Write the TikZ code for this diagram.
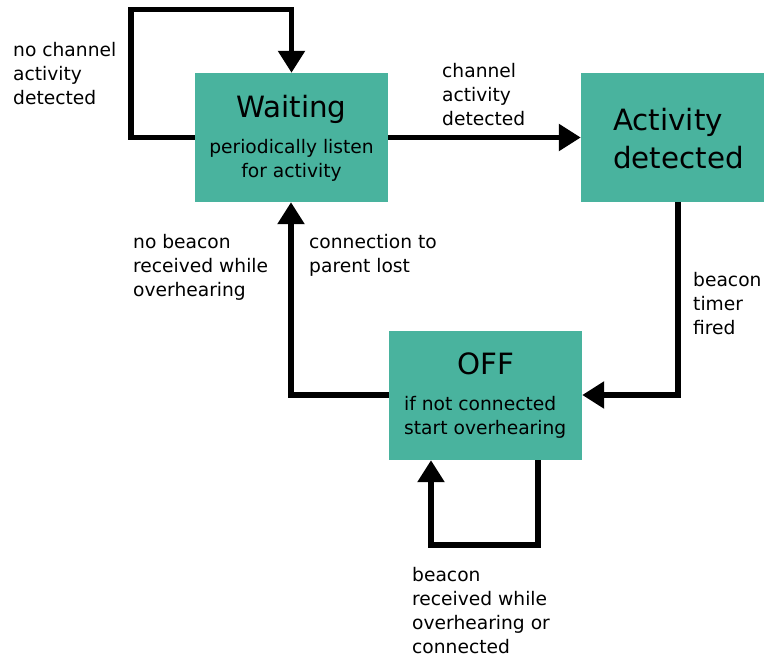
\documentclass[tikz,border=0pt]{standalone}
\usepackage{fontspec}
\setmainfont{DejaVu Sans}
\usetikzlibrary{arrows.meta}

\definecolor{statefill}{RGB}{73,179,158}

% left- or centre-aligned stack of lines whose baseline is the first line
\newcommand\lstack[1]{\begin{tabular}[t]{@{}l@{}}#1\end{tabular}}
\newcommand\cstack[1]{\begin{tabular}[t]{@{}c@{}}#1\end{tabular}}

\begin{document}
\begin{tikzpicture}[
  x=1pt, y=-1pt,
  state/.style={fill=statefill, draw=none, inner sep=0pt,
                minimum width=193pt, minimum height=129pt},
  title/.style={inner sep=0pt, font=\fontsize{29.33pt}{38pt}\selectfont},
  sub/.style={inner sep=0pt, font=\fontsize{18.67pt}{24pt}\selectfont},
  lbl/.style={anchor=base west, inner sep=0pt, font=\fontsize{18.67pt}{24pt}\selectfont},
  edge/.style={line width=5.5pt, line join=miter,
               -{Triangle[length=22pt, width=26pt]}},
]
\useasboundingbox (0,0) rectangle (764,656);
\clip (0,0) rectangle (764,656);

% states
\node[state] (waiting) at (291.5,137.5) {};
\node[state, minimum width=194pt] (active) at (678,137.5) {};
\node[state] (off) at (485.5,395.5) {};

% state texts
\node[title, anchor=base] (waitT) at (291.5,117) {Waiting};
\node[sub, anchor=base] (waitS) at (291.5,153) {\cstack{periodically listen\\for activity}};
\node[title, anchor=base west] (actT) at (613,130) {\lstack{Activity\\detected}};
\node[title, anchor=base] (offT) at (485.5,374) {OFF};
\node[sub, anchor=base west] (offS) at (404,410) {\lstack{if not connected\\start overhearing}};

% bend points of the connectors
\coordinate (wl1) at (131,137.5);
\coordinate (wl2) at (131,9.5);
\coordinate (ao) at (678,395);
\coordinate (ow) at (291,395);
\coordinate (ol1) at (538,545);
\coordinate (ol2) at (431,545);

% connectors
\draw[edge] (waiting.west) -- (wl1) -- (wl2) -| (waiting.north);
\draw[edge] (waiting.east) -- (active.west);
\draw[edge] (active.south) -- (ao) -- (ao -| off.east);
\draw[edge] (ow -| off.west) -- (ow) -- (waiting.south -| ow);
\draw[edge] (off.south -| ol1) -- (ol1) -- (ol2) -- (off.south -| ol2);

% transition labels
\node[lbl] (l1) at (13,56) {\lstack{no channel\\activity\\detected}};
\node[lbl] (l2) at (442,77) {\lstack{channel\\activity\\detected}};
\node[lbl] (l3) at (133,248) {\lstack{no beacon\\received while\\overhearing}};
\node[lbl] (l4) at (309,248) {\lstack{connection to\\parent lost}};
\node[lbl] (l5) at (693,286) {\lstack{beacon\\timer\\fired}};
\node[lbl] (l6) at (412,581) {\lstack{beacon\\received while\\overhearing or\\connected}};
\end{tikzpicture}
\end{document}
